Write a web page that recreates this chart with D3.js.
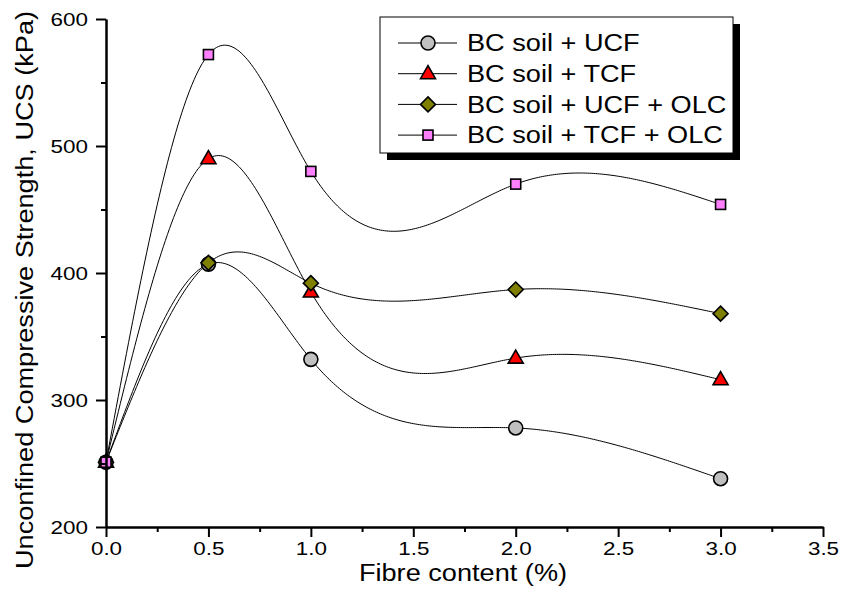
<!DOCTYPE html>
<html><head><meta charset="utf-8">
<script src="https://cdn.jsdelivr.net/npm/d3@7"></script>
<style>body{margin:0;background:#fff}svg{display:block;font-family:Arial,"Liberation Sans",sans-serif}</style>
</head><body><svg id="c" width="842" height="594"></svg>
<script>
const fibre = [0, 0.5, 1, 2, 3];
const ucf = [251, 407, 332, 278, 238];
const tcf = [251, 490, 385, 333, 316];
const ucfOlc = [251, 408, 392, 387, 368];
const tcfOlc = [251, 572, 480, 470, 454];
const seriesNames = ["BC soil + UCF", "BC soil + TCF", "BC soil + UCF + OLC", "BC soil + TCF + OLC"];
const xTicks = [0, 0.5, 1, 1.5, 2, 2.5, 3, 3.5];
const yTicks = [200, 300, 400, 500, 600];

const svg = d3.select("#c");
const x = d3.scaleLinear().domain([0, 3.5]).range([106, 823]);
const y = d3.scaleLinear().domain([200, 600]).range([527, 19]);
const FONT = "Arial, 'Liberation Sans', sans-serif";
const WIDEN = 1.18;
function stretch(sel, f) {
  sel.each(function () {
    const w = this.getComputedTextLength();
    d3.select(this).attr("textLength", w * f).attr("lengthAdjust", "spacingAndGlyphs");
  });
}

const series = [
  {name: seriesNames[0], vals: ucf, shape: "circle", fill: "#C0C0C0"},
  {name: seriesNames[1], vals: tcf, shape: "triangle", fill: "#FF0000"},
  {name: seriesNames[2], vals: ucfOlc, shape: "diamond", fill: "#808000"},
  {name: seriesNames[3], vals: tcfOlc, shape: "square", fill: "#FF80FF"}
];

// natural cubic spline in x (curve rendering only)
function spline(xs, ys) {
  const n = xs.length - 1, h = [], a = [], l = [1], mu = [0], z = [0], c = new Array(n + 1).fill(0), b = [], d = [];
  for (let i = 0; i < n; i++) h[i] = xs[i + 1] - xs[i];
  for (let i = 1; i < n; i++) a[i] = 3 / h[i] * (ys[i + 1] - ys[i]) - 3 / h[i - 1] * (ys[i] - ys[i - 1]);
  for (let i = 1; i < n; i++) {
    l[i] = 2 * (xs[i + 1] - xs[i - 1]) - h[i - 1] * mu[i - 1];
    mu[i] = h[i] / l[i];
    z[i] = (a[i] - h[i - 1] * z[i - 1]) / l[i];
  }
  for (let j = n - 1; j >= 0; j--) {
    c[j] = z[j] - mu[j] * c[j + 1];
    b[j] = (ys[j + 1] - ys[j]) / h[j] - h[j] * (c[j + 1] + 2 * c[j]) / 3;
    d[j] = (c[j + 1] - c[j]) / (3 * h[j]);
  }
  return t => {
    let i = 0;
    while (i < n - 1 && t > xs[i + 1]) i++;
    const dx = t - xs[i];
    return ys[i] + b[i] * dx + c[i] * dx * dx + d[i] * dx * dx * dx;
  };
}

const line = d3.line().x(d => x(d[0])).y(d => y(d[1]));
series.forEach(s => {
  const f = spline(fibre, s.vals);
  const pts = [];
  for (let k = 0; k <= 300; k++) { const t = 3 * k / 300; pts.push([t, f(t)]); }
  svg.append("path").attr("d", line(pts)).attr("fill", "none").attr("stroke", "#000").attr("stroke-width", 1);
});

function marker(g, shape, fill, cx, cy) {
  let el;
  if (shape === "circle") el = g.append("circle").attr("cx", cx).attr("cy", cy).attr("r", 7);
  else if (shape === "square") el = g.append("rect").attr("x", cx - 5).attr("y", cy - 5).attr("width", 10).attr("height", 10);
  else if (shape === "diamond") el = g.append("path").attr("d", `M${cx},${cy - 7.5}L${cx + 7.5},${cy}L${cx},${cy + 7.5}L${cx - 7.5},${cy}Z`);
  else el = g.append("path").attr("d", `M${cx},${cy - 8}L${cx + 7.5},${cy + 5}L${cx - 7.5},${cy + 5}Z`);
  el.attr("fill", fill).attr("stroke", "#000").attr("stroke-width", 1.6);
}

series.forEach(s => {
  const g = svg.append("g");
  s.vals.forEach((v, i) => marker(g, s.shape, s.fill, x(fibre[i]), y(v)));
});

// axes
const xAxis = svg.append("g").attr("transform", "translate(0,527)")
  .call(d3.axisBottom(x).tickValues(xTicks).tickFormat(d3.format(".1f")).tickSize(10).tickSizeOuter(0).tickPadding(5));
const xMinor = svg.append("g").attr("transform", "translate(0,527)")
  .call(d3.axisBottom(x).tickValues(d3.range(0.25, 3.5, 0.5)).tickFormat("").tickSize(5).tickSizeOuter(0));
const yAxis = svg.append("g").attr("transform", "translate(106,0)")
  .call(d3.axisLeft(y).tickValues(yTicks).tickFormat(d3.format("d")).tickSize(10).tickSizeOuter(0).tickPadding(8));
const yMinor = svg.append("g").attr("transform", "translate(106,0)")
  .call(d3.axisLeft(y).tickValues([250, 350, 450, 550]).tickFormat("").tickSize(5).tickSizeOuter(0));
[xAxis, xMinor, yAxis, yMinor].forEach(g => {
  g.selectAll("path").attr("stroke", "#000").attr("stroke-width", 2);
  g.selectAll("line").attr("stroke", "#000").attr("stroke-width", 2);
  g.selectAll("text").attr("font-size", "19px").attr("font-family", FONT).attr("fill", "#000");
  stretch(g.selectAll("text"), WIDEN);
});

const xt = svg.append("text").attr("x", 463).attr("y", 581).attr("text-anchor", "middle").attr("font-size", "23px").text("Fibre content (%)");
stretch(xt, WIDEN);
const yt = svg.append("text").attr("transform", "translate(33,290) rotate(-90)").attr("text-anchor", "middle").attr("font-size", "23px")
  .text("Unconfined Compressive Strength, UCS (kPa)");
stretch(yt, WIDEN);

// legend
const lg = svg.append("g");
lg.append("rect").attr("x", 387).attr("y", 24).attr("width", 353).attr("height", 136).attr("fill", "#000");
lg.append("rect").attr("x", 380).attr("y", 17).attr("width", 353).attr("height", 136).attr("fill", "#fff").attr("stroke", "#000").attr("stroke-width", 1);
series.forEach((s, i) => {
  const cy = 43 + i * 30.7;
  lg.append("line").attr("x1", 398).attr("x2", 457).attr("y1", cy).attr("y2", cy).attr("stroke", "#000").attr("stroke-width", 1);
  marker(lg, s.shape, s.fill, 428, cy);
  const t = lg.append("text").attr("x", 467).attr("y", cy).attr("dy", "0.36em").attr("font-size", "23px").text(s.name);
  stretch(t, WIDEN);
});
</script></body></html>
